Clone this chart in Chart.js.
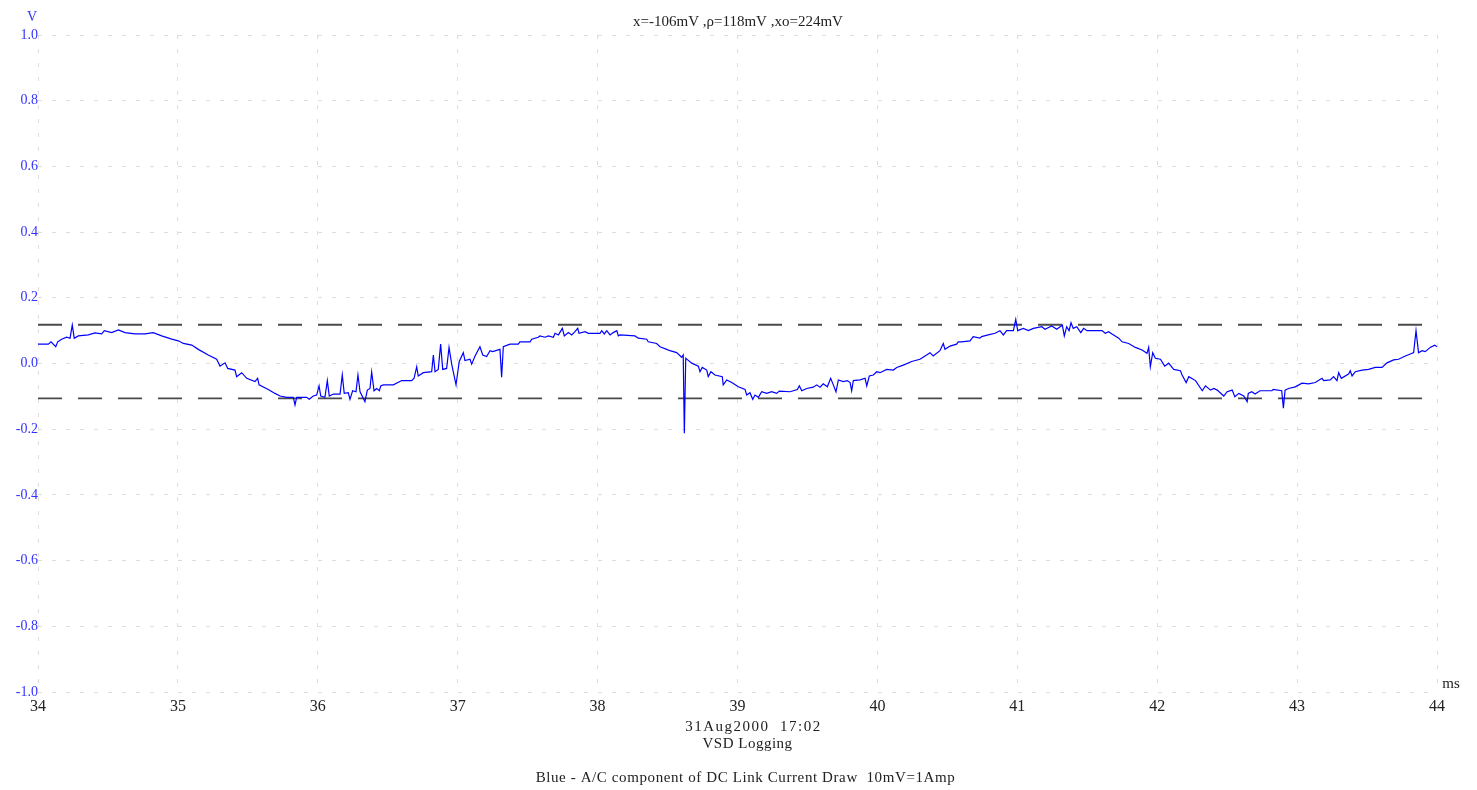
<!DOCTYPE html>
<html lang="en">
<head>
  <meta charset="UTF-8" />
  <title>VSD Logging</title>
  <script src="https://cdn.jsdelivr.net/npm/chart.js"></script>
  <style>
    body {
      margin: 0;
      background-color: #ffffff;
      overflow: hidden;
    }
    canvas {
      display: block;
    }
  </style>
</head>
<body>
  <canvas id="scopeChart" width="1477" height="790"></canvas>

  <script>
    // Time axis (ms) and the measured signal (V)
    const timeMs = [
      34.000, 34.074, 34.093, 34.127, 34.141, 34.169, 34.205, 34.229, 34.245, 34.259,
      34.288, 34.360, 34.407, 34.455, 34.474, 34.527, 34.574, 34.622, 34.693, 34.765,
      34.824, 34.884, 34.956, 35.003, 35.039, 35.099, 35.146, 35.217, 35.277, 35.301,
      35.337, 35.356, 35.408, 35.420, 35.456, 35.492, 35.551, 35.570, 35.580, 35.646,
      35.694, 35.730, 35.778, 35.825, 35.837, 35.849, 35.921, 35.939, 35.968, 35.992,
      36.009, 36.021, 36.051, 36.068, 36.082, 36.111, 36.159, 36.175, 36.189, 36.218,
      36.230, 36.249, 36.273, 36.287, 36.302, 36.337, 36.354, 36.373, 36.385, 36.402,
      36.421, 36.440, 36.450, 36.468, 36.540, 36.600, 36.671, 36.688, 36.707, 36.718,
      36.754, 36.814, 36.826, 36.838, 36.861, 36.878, 36.893, 36.921, 36.938, 36.957,
      36.988, 37.011, 37.040, 37.052, 37.088, 37.100, 37.124, 37.159, 37.179, 37.207,
      37.231, 37.250, 37.302, 37.314, 37.326, 37.374, 37.433, 37.445, 37.517, 37.529,
      37.576, 37.588, 37.624, 37.648, 37.684, 37.696, 37.720, 37.748, 37.762, 37.791,
      37.815, 37.838, 37.858, 37.867, 37.910, 37.934, 38.017, 38.029, 38.048, 38.065,
      38.089, 38.112, 38.137, 38.148, 38.160, 38.267, 38.291, 38.351, 38.362, 38.422,
      38.446, 38.494, 38.517, 38.565, 38.601, 38.612, 38.620, 38.630, 38.644, 38.673,
      38.720, 38.732, 38.748, 38.780, 38.791, 38.810, 38.839, 38.891, 38.898, 38.923,
      38.959, 39.006, 39.054, 39.066, 39.089, 39.109, 39.125, 39.149, 39.173, 39.209,
      39.244, 39.280, 39.299, 39.375, 39.428, 39.442, 39.459, 39.495, 39.542, 39.566,
      39.590, 39.613, 39.642, 39.666, 39.685, 39.704, 39.721, 39.756, 39.785, 39.805,
      39.816, 39.828, 39.876, 39.912, 39.924, 39.942, 39.971, 39.995, 40.019, 40.066,
      40.114, 40.138, 40.185, 40.245, 40.304, 40.352, 40.376, 40.399, 40.447, 40.471,
      40.483, 40.519, 40.566, 40.578, 40.602, 40.662, 40.685, 40.733, 40.745, 40.792,
      40.841, 40.876, 40.900, 40.924, 40.972, 40.989, 41.003, 41.043, 41.079, 41.115,
      41.175, 41.198, 41.246, 41.282, 41.322, 41.336, 41.353, 41.370, 41.384, 41.400,
      41.425, 41.454, 41.474, 41.498, 41.605, 41.629, 41.653, 41.677, 41.725, 41.749,
      41.796, 41.844, 41.892, 41.927, 41.939, 41.951, 41.968, 41.987, 42.023, 42.054,
      42.082, 42.118, 42.166, 42.178, 42.207, 42.226, 42.274, 42.322, 42.345, 42.381,
      42.405, 42.429, 42.476, 42.500, 42.536, 42.555, 42.583, 42.619, 42.643, 42.651,
      42.676, 42.700, 42.735, 42.819, 42.830, 42.890, 42.902, 42.914, 42.939, 42.987,
      43.035, 43.082, 43.130, 43.178, 43.190, 43.237, 43.261, 43.285, 43.297, 43.316,
      43.368, 43.380, 43.393, 43.416, 43.464, 43.511, 43.559, 43.607, 43.643, 43.690,
      43.725, 43.774, 43.809, 43.833, 43.850, 43.868, 43.893, 43.916, 43.952, 43.983,
      44.000
    ];

    const volts = [
      0.059, 0.059, 0.066, 0.051, 0.066, 0.074, 0.080, 0.077, 0.117, 0.077,
      0.084, 0.087, 0.093, 0.090, 0.100, 0.094, 0.102, 0.094, 0.090, 0.090,
      0.094, 0.084, 0.074, 0.069, 0.061, 0.056, 0.043, 0.026, 0.013, -0.008,
      0.002, -0.015, -0.020, -0.040, -0.028, -0.045, -0.055, -0.045, -0.065, -0.079,
      -0.091, -0.099, -0.103, -0.103, -0.126, -0.103, -0.103, -0.109, -0.099, -0.096,
      -0.068, -0.099, -0.103, -0.052, -0.099, -0.093, -0.093, -0.035, -0.091, -0.089,
      -0.109, -0.083, -0.086, -0.035, -0.086, -0.116, -0.081, -0.076, -0.026, -0.083,
      -0.076, -0.083, -0.068, -0.065, -0.065, -0.052, -0.052, -0.045, -0.010, -0.038,
      -0.028, -0.025, 0.026, -0.025, -0.018, 0.059, -0.018, -0.015, 0.049, -0.002,
      -0.065, 0.006, 0.033, 0.009, 0.013, -0.002, 0.023, 0.051, 0.026, 0.021,
      0.039, 0.036, 0.043, -0.042, 0.051, 0.059, 0.059, 0.066, 0.066, 0.074,
      0.080, 0.084, 0.080, 0.084, 0.080, 0.092, 0.087, 0.107, 0.084, 0.094,
      0.087, 0.097, 0.107, 0.092, 0.097, 0.092, 0.092, 0.100, 0.090, 0.100,
      0.087, 0.094, 0.100, 0.084, 0.087, 0.084, 0.077, 0.074, 0.066, 0.061,
      0.051, 0.043, 0.039, 0.033, 0.019, 0.026, -0.212, 0.016, 0.011, 0.001,
      -0.008, -0.025, -0.012, -0.020, -0.040, -0.025, -0.035, -0.040, -0.065, -0.050,
      -0.058, -0.071, -0.079, -0.096, -0.089, -0.109, -0.096, -0.103, -0.086, -0.091,
      -0.086, -0.091, -0.084, -0.086, -0.079, -0.068, -0.083, -0.076, -0.072, -0.065,
      -0.072, -0.062, -0.071, -0.045, -0.065, -0.086, -0.050, -0.055, -0.052, -0.058,
      -0.083, -0.052, -0.050, -0.045, -0.068, -0.038, -0.035, -0.025, -0.028, -0.018,
      -0.020, -0.012, -0.005, 0.006, 0.013, 0.026, 0.033, 0.023, 0.039, 0.061,
      0.043, 0.053, 0.059, 0.066, 0.066, 0.069, 0.082, 0.077, 0.082, 0.087,
      0.092, 0.100, 0.087, 0.100, 0.100, 0.134, 0.100, 0.107, 0.100, 0.107,
      0.112, 0.104, 0.114, 0.104, 0.117, 0.084, 0.112, 0.100, 0.124, 0.107,
      0.112, 0.094, 0.107, 0.100, 0.100, 0.092, 0.097, 0.090, 0.077, 0.066,
      0.061, 0.049, 0.041, 0.031, 0.049, -0.010, 0.033, 0.016, 0.013, -0.008,
      0.001, -0.018, -0.022, -0.035, -0.058, -0.040, -0.052, -0.083, -0.068, -0.081,
      -0.076, -0.081, -0.099, -0.086, -0.081, -0.101, -0.091, -0.099, -0.116, -0.091,
      -0.086, -0.093, -0.083, -0.083, -0.079, -0.083, -0.136, -0.081, -0.076, -0.071,
      -0.060, -0.062, -0.058, -0.045, -0.052, -0.050, -0.040, -0.052, -0.028, -0.045,
      -0.032, -0.022, -0.038, -0.025, -0.020, -0.018, -0.012, -0.012, 0.002, 0.011,
      0.013, 0.023, 0.029, 0.033, 0.100, 0.033, 0.039, 0.036, 0.049, 0.056,
      0.051
    ];

    // Cursor levels (V) and where the dashed cursors stop (ms)
    const cursorHigh = 0.118;
    const cursorLow = -0.106;
    const cursorSpan = [34, 43.9];

    const xTicks = [34, 35, 36, 37, 38, 39, 40, 41, 42, 43, 44];
    const yTicks = [-1.0, -0.8, -0.6, -0.4, -0.2, 0.0, 0.2, 0.4, 0.6, 0.8, 1.0];

    const statsText = 'x=-106mV ,ρ=118mV ,xo=224mV';
    const dateText = '31Aug2000  17:02';
    const titleText = 'VSD Logging';
    const noteText = 'Blue - A/C component of DC Link Current Draw  10mV=1Amp';

    const signalPoints = timeMs.map((t, i) => ({ x: t, y: volts[i] }));

    // free text around the plot
    const annotations = {
      id: 'annotations',
      afterDraw(chart) {
        const ctx = chart.ctx;
        const area = chart.chartArea;
        ctx.save();
        ctx.textBaseline = 'middle';
        ctx.textAlign = 'center';

        ctx.fillStyle = '#3333ff';
        ctx.font = '14px "Liberation Serif", serif';
        ctx.fillText('V', 32, 17);

        ctx.fillStyle = '#222222';
        ctx.font = '15px "Liberation Serif", serif';
        ctx.fillText(statsText, 738, 22);
        ctx.fillText('ms', 1451, 684);

        const cx = (area.left + area.right) / 2 + 16;
        ctx.letterSpacing = '1.5px';
        ctx.fillText(dateText, cx, 727);
        ctx.letterSpacing = '0.5px';
        ctx.fillText(titleText, cx - 6, 744);
        ctx.letterSpacing = '0.6px';
        ctx.fillText(noteText, cx - 8, 778);
        ctx.restore();
      }
    };

    const ctx = document.getElementById('scopeChart').getContext('2d');

    new Chart(ctx, {
      type: 'line',
      data: {
        datasets: [
          {
            label: 'Signal',
            data: signalPoints,
            borderColor: '#0000ff',
            borderWidth: 1.2,
            pointRadius: 0,
            tension: 0
          },
          {
            label: 'High',
            data: cursorSpan.map(t => ({ x: t, y: cursorHigh })),
            borderColor: '#4a4a4a',
            borderWidth: 1.8,
            borderDash: [24, 16],
            pointRadius: 0
          },
          {
            label: 'Low',
            data: cursorSpan.map(t => ({ x: t, y: cursorLow })),
            borderColor: '#4a4a4a',
            borderWidth: 1.8,
            borderDash: [24, 16],
            pointRadius: 0
          }
        ]
      },
      options: {
        responsive: false,
        animation: false,
        devicePixelRatio: 1,
        layout: {
          padding: { top: 35, right: 40, bottom: 60, left: 0 }
        },
        plugins: {
          legend: { display: false },
          tooltip: { enabled: false }
        },
        scales: {
          x: {
            type: 'linear',
            min: 34,
            max: 44,
            afterFit: scale => { scale.height = 38; },
            afterBuildTicks: scale => { scale.ticks = xTicks.map(v => ({ value: v })); },
            grid: {
              color: '#dddddd',
              lineWidth: 1,
              drawTicks: false
            },
            border: { display: false, dash: [4, 10] },
            ticks: {
              padding: 5,
              color: '#222222',
              font: { family: '"Liberation Serif", serif', size: 16 },
              maxRotation: 0
            }
          },
          y: {
            min: -1,
            max: 1,
            afterFit: scale => { scale.width = 38; },
            afterBuildTicks: scale => { scale.ticks = yTicks.map(v => ({ value: v })); },
            grid: {
              color: '#dddddd',
              lineWidth: 1,
              drawTicks: false
            },
            border: { display: false, dash: [4, 10] },
            ticks: {
              padding: 0,
              color: '#3333ff',
              font: { family: '"Liberation Serif", serif', size: 14 },
              callback: value => (Math.abs(value) < 1e-9 ? 0 : value).toFixed(1)
            }
          }
        }
      },
      plugins: [annotations]
    });
  </script>
</body>
</html>
